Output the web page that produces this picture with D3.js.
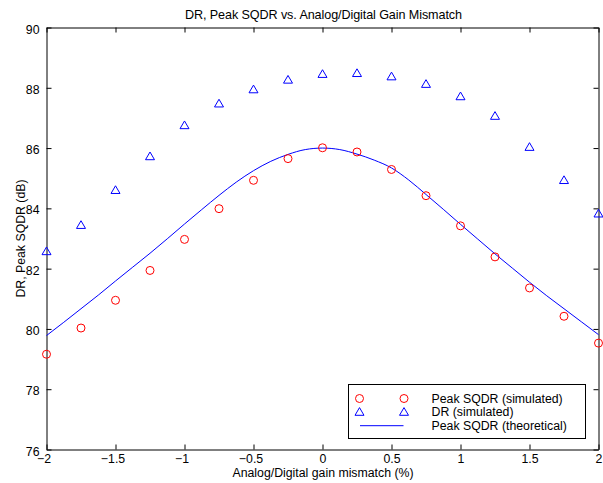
<!DOCTYPE html>
<html>
<head>
<meta charset="utf-8">
<script src="https://cdn.jsdelivr.net/npm/d3@7"></script>
<style>
  html, body { margin: 0; padding: 0; background: #fff; }
  svg { display: block; font-family: "Liberation Sans", Arial, Helvetica, sans-serif; }
</style>
</head>
<body>
<svg id="chart" width="603" height="483"></svg>
<script>
// Gain mismatch sweep (%)
const mismatch = [-2, -1.75, -1.5, -1.25, -1, -0.75, -0.5, -0.25, 0, 0.25, 0.5, 0.75, 1, 1.25, 1.5, 1.75, 2];
// Simulated peak SQDR (dB)
const sqdrSim = [79.16, 80.03, 80.95, 81.94, 82.97, 83.99, 84.93, 85.65, 86.01, 85.87, 85.29, 84.42, 83.42, 82.39, 81.36, 80.42, 79.53];
// Simulated dynamic range (dB)
const drSim = [82.57, 83.44, 84.6, 85.72, 86.75, 87.47, 87.94, 88.26, 88.45, 88.48, 88.37, 88.12, 87.71, 87.06, 86.03, 84.93, 83.82];
// Theoretical peak SQDR curve
const theoX = [-2, -1.875, -1.75, -1.625, -1.5, -1.375, -1.25, -1.125, -1, -0.875, -0.75, -0.625, -0.5, -0.375, -0.25, -0.125, 0,
               0.125, 0.25, 0.375, 0.5, 0.625, 0.75, 0.875, 1, 1.125, 1.25, 1.375, 1.5, 1.625, 1.75, 1.875, 2];
const theoY = [79.78, 80.22, 80.67, 81.12, 81.59, 82.05, 82.51, 82.99, 83.48, 83.96, 84.43, 84.87, 85.25, 85.56, 85.79, 85.95, 86.0,
               85.95, 85.8, 85.6, 85.34, 84.94, 84.46, 83.97, 83.47, 82.98, 82.49, 82.02, 81.55, 81.1, 80.67, 80.24, 79.81];
const xTicks = [-2, -1.5, -1, -0.5, 0, 0.5, 1, 1.5, 2];
const yTicks = [76, 78, 80, 82, 84, 86, 88, 90];

const legendItems = [
  { label: "Peak SQDR (simulated)", kind: "circle" },
  { label: "DR (simulated)", kind: "triangle" },
  { label: "Peak SQDR (theoretical)", kind: "line" }
];

const svg = d3.select("#chart");
const plotL = 46.5, plotR = 598.5, plotT = 27.5, plotB = 449.5;

const x = d3.scaleLinear().domain([-2, 2]).range([plotL, plotR]);
const y = d3.scaleLinear().domain([76, 90]).range([plotB, plotT]);
const fmt = d3.format("~g");
const fontSize = 12.3;
const tickLen = 5;

// Title
svg.append("text")
  .attr("x", 323.5).attr("y", 19)
  .attr("text-anchor", "middle")
  .attr("font-size", 12.6)
  .attr("textLength", 277)
  .attr("lengthAdjust", "spacing")
  .text("DR, Peak SQDR vs. Analog/Digital Gain Mismatch");

// Axes (box with inward ticks on all sides)
const axBottom = d3.axisBottom(x).tickValues(xTicks).tickFormat(fmt).tickSizeInner(-tickLen).tickSizeOuter(0).tickPadding(5);
const axTop = d3.axisTop(x).tickValues(xTicks).tickFormat("").tickSizeInner(-tickLen).tickSizeOuter(0);
const axLeft = d3.axisLeft(y).tickValues(yTicks).tickFormat(fmt).tickSizeInner(-tickLen).tickSizeOuter(0).tickPadding(7);
const axRight = d3.axisRight(y).tickValues(yTicks).tickFormat("").tickSizeInner(-tickLen).tickSizeOuter(0);

function styleAxis(g) {
  g.select(".domain").attr("stroke", "#000").attr("stroke-width", 1);
  g.selectAll(".tick line").attr("stroke", "#000");
  g.selectAll(".tick text").attr("font-size", fontSize).attr("fill", "#000");
  g.attr("font-family", null).attr("font-size", null);
}

const gb = svg.append("g").attr("transform", `translate(0,${plotB})`).call(axBottom).call(styleAxis);
svg.append("g").attr("transform", `translate(0,${plotT})`).call(axTop).call(styleAxis);
const gl = svg.append("g").attr("transform", `translate(${plotL},0)`).call(axLeft).call(styleAxis);
svg.append("g").attr("transform", `translate(${plotR},0)`).call(axRight).call(styleAxis);
// negative labels are centred on their digits rather than on the minus sign
gb.selectAll(".tick text").filter(d => d < 0).attr("dx", -3);
gl.selectAll(".tick text").attr("dy", "0.45em");

// Axis labels
svg.append("text")
  .attr("x", 323).attr("y", 477)
  .attr("text-anchor", "middle")
  .attr("font-size", fontSize)
  .text("Analog/Digital gain mismatch (%)");
svg.append("text")
  .attr("transform", `translate(24.5,${(plotT + plotB) / 2}) rotate(-90)`)
  .attr("text-anchor", "middle")
  .attr("font-size", fontSize)
  .text("DR, Peak SQDR (dB)");

// Theoretical curve
const line = d3.line().x(d => x(d[0])).y(d => y(d[1])).curve(d3.curveMonotoneX);
svg.append("path")
  .datum(theoX.map((v, i) => [v, theoY[i]]))
  .attr("d", line)
  .attr("fill", "none")
  .attr("stroke", "#0000ff")
  .attr("stroke-width", 1);

// Markers
const triPath = "M0,-4.5L4.5,3.2L-4.5,3.2Z";
function circle(g, cx, cy) {
  g.append("circle").attr("cx", cx).attr("cy", cy).attr("r", 4)
    .attr("fill", "none").attr("stroke", "#ff0000").attr("stroke-width", 1);
}
function triangle(g, cx, cy) {
  g.append("path").attr("d", triPath).attr("transform", `translate(${cx},${cy})`)
    .attr("fill", "none").attr("stroke", "#0000ff").attr("stroke-width", 1);
}

const marks = svg.append("g");
mismatch.forEach((m, i) => {
  circle(marks, x(m), y(sqdrSim[i]));
  triangle(marks, x(m), y(drSim[i]));
});

// Legend
const lg = svg.append("g");
const lx0 = 348.5, ly0 = 384.5, lw = 237, lh = 54;
lg.append("rect").attr("x", lx0).attr("y", ly0).attr("width", lw).attr("height", lh)
  .attr("fill", "#fff").attr("stroke", "#000").attr("stroke-width", 1);
legendItems.forEach((it, i) => {
  const cy = ly0 + 14 + i * 13.6;
  if (it.kind === "circle") { circle(lg, lx0 + 11, cy); circle(lg, lx0 + 55.5, cy); }
  if (it.kind === "triangle") { triangle(lg, lx0 + 11, cy); triangle(lg, lx0 + 55.5, cy); }
  if (it.kind === "line") {
    lg.append("line").attr("x1", lx0 + 11.5).attr("x2", lx0 + 55).attr("y1", cy).attr("y2", cy)
      .attr("stroke", "#0000ff").attr("stroke-width", 1);
  }
  lg.append("text").attr("x", lx0 + 83).attr("y", cy).attr("dy", "0.35em")
    .attr("font-size", fontSize).text(it.label);
});
</script>
</body>
</html>
